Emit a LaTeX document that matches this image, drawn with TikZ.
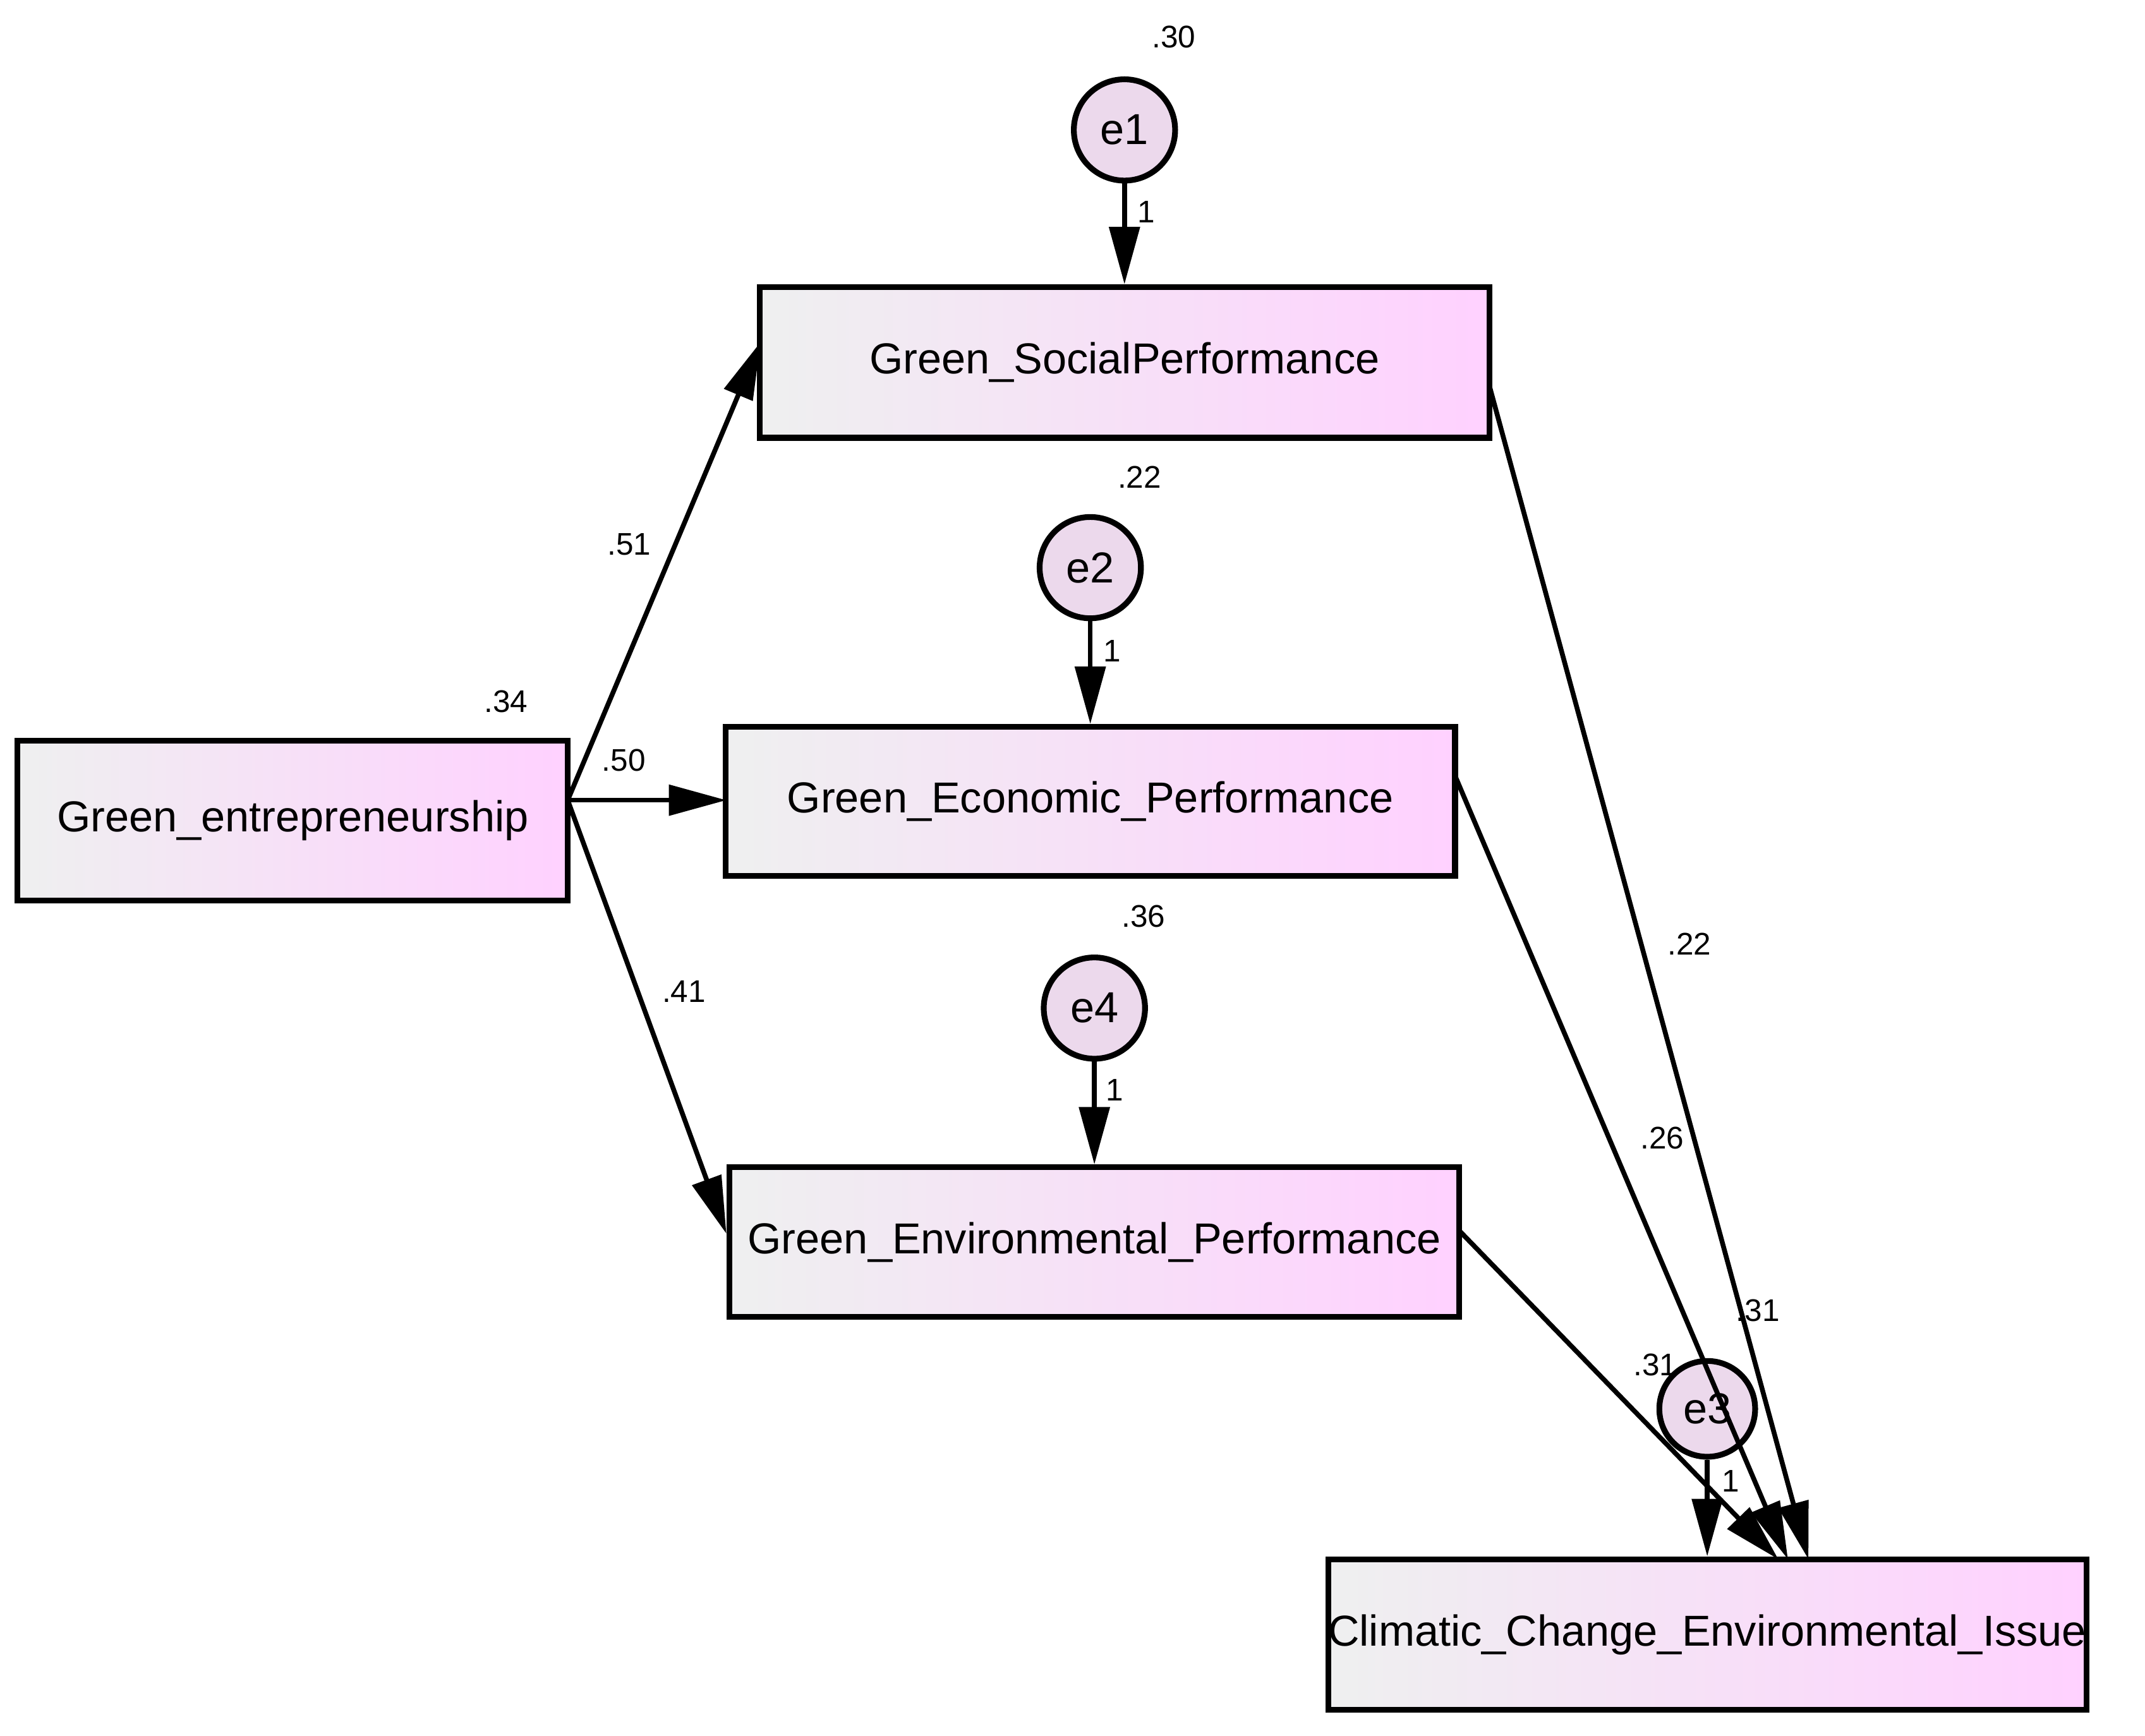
\documentclass[tikz,border=0pt]{standalone}
\usepackage{fontspec}
\setmainfont{Liberation Sans}
\usetikzlibrary{arrows.meta}
\begin{document}
\begin{tikzpicture}[x=0.01cm,y=-0.01cm,
 box/.style={draw,line width=1.2pt,left color=teal!8!gray!12,right color=magenta!18,inner sep=0pt,font=\fontsize{9pt}{10pt}\selectfont},
 err/.style={draw,circle,line width=1.2pt,fill=violet!15,minimum size=0.74cm,inner sep=0pt,font=\fontsize{9pt}{10pt}\selectfont},
 arr/.style={line width=1pt,-{Triangle[length=0.42cm,width=0.22cm]}},
 lab/.style={font=\fontsize{6.5pt}{7pt}\selectfont,inner sep=0pt}]
\useasboundingbox (0,0) rectangle (1568,1269);
\node[box,minimum width=4.02cm,minimum height=1.17cm] (ge) at (214,600) {Green\_entrepreneurship};
\node[box,minimum width=5.33cm,minimum height=1.10cm] (gs) at (822,265) {Green\_SocialPerformance};
\node[box,minimum width=5.33cm,minimum height=1.09cm] (gec) at (797,586) {Green\_Economic\_Performance};
\node[box,minimum width=5.33cm,minimum height=1.09cm] (gen) at (800,908) {Green\_Environmental\_Performance};
\node[box,minimum width=5.33cm,minimum height=1.10cm] (cc) at (1248,1195) {Climatic\_Change\_Environmental\_Issue};
\node[err] (e1) at (822,95) {e1};
\node[err] (e2) at (797,415) {e2};
\node[err] (e4) at (800,737) {e4};
\node[err,minimum size=0.7cm] (e3) at (1248,1030) {e3};
\coordinate (o) at (415,585);
\draw[arr] (o) -- (556,250);
\draw[arr] (o) -- (531,585);
\draw[arr] (o) -- (531,902);
\draw[arr] (e1) -- (gs);
\draw[arr] (e2) -- (gec);
\draw[arr] (e4) -- (gen);
\draw[arr] (e3) -- (cc.north);
\draw[arr] (1089,283) -- (1322,1140);
\draw[arr] (1064,568) -- (1307,1140);
\draw[arr] (1067,900) -- (1300,1140);
\node[lab] (l1) at (858,27) {.30};
\node[lab] (l2) at (833,349) {.22};
\node[lab] (l3) at (836,670) {.36};
\node[lab] (l4) at (370,513) {.34};
\node[lab] (l5) at (460,398) {.51};
\node[lab] (l6) at (456,556) {.50};
\node[lab] (l7) at (500,725) {.41};
\node[lab] (l8) at (1235,690) {.22};
\node[lab] (l9) at (1215,832) {.26};
\node[lab] (l10) at (1285,958) {.31};
\node[lab] (l11) at (1210,998) {.31};
\node[lab] (n1) at (838,155) {1};
\node[lab] (n2) at (813,476) {1};
\node[lab] (n3) at (815,797) {1};
\node[lab] (n4) at (1265,1083) {1};
\end{tikzpicture}
\end{document}
